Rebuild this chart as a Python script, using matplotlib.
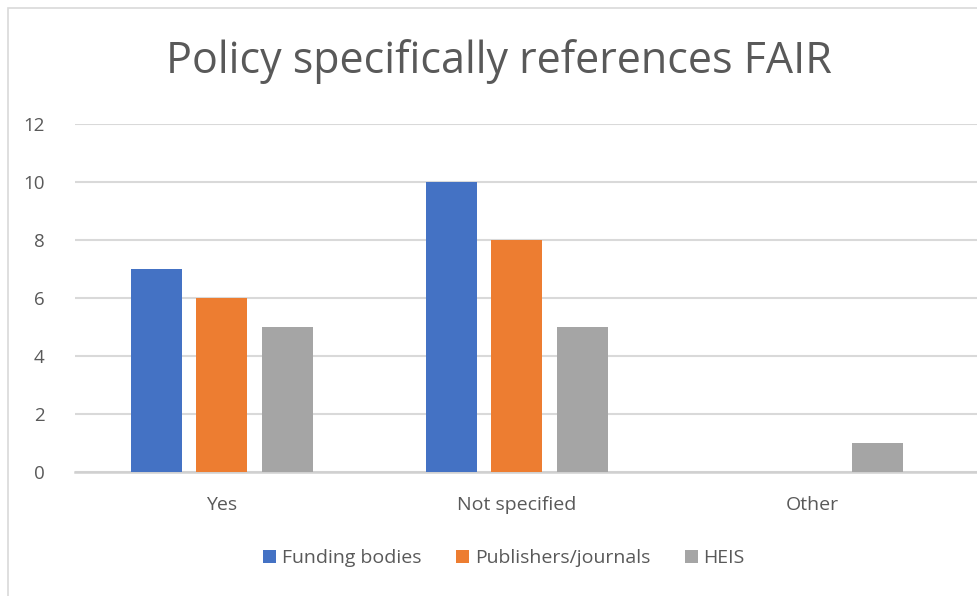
import matplotlib
matplotlib.use("Agg")
import matplotlib.pyplot as plt
from matplotlib.patches import Rectangle
import numpy as np

categories = ["Yes", "Not specified", "Other"]
series_names = ["Funding bodies", "Publishers/journals", "HEIS"]
funding = [7, 10, 0]
publishers = [6, 8, 0]
heis = [5, 5, 1]
yticks = [0, 2, 4, 6, 8, 10, 12]

colors = ["#4472C4", "#ED7D31", "#A5A5A5"]
txt = "#595959"
plt.rcParams['font.family'] = ['Open Sans', 'DejaVu Sans']

fig = plt.figure(figsize=(9.77, 5.96), dpi=100)
W, H = 977, 596
fig.patches.append(Rectangle((8 / W, -0.1), 1.2, 1 - 8 / H + 0.1, transform=fig.transFigure,
                             fill=False, edgecolor="#d9d9d9", linewidth=1.2))

ax = fig.add_axes([75 / W, 1 - 472 / H, (977 - 75) / W, (472 - 124) / H])
x = np.arange(len(categories))
off = 0.222
w = 0.173
for i, (vals, name) in enumerate(zip([funding, publishers, heis], series_names)):
    ax.bar(x + (i - 1) * off, vals, width=w, color=colors[i], label=name, zorder=3)

ax.set_xlim(-0.498, 2.56)
ax.set_ylim(0, 12)
ax.set_yticks(yticks)
ax.set_yticklabels([str(t) for t in yticks], fontsize=13.5, color=txt)
ax.set_xticks(x)
ax.set_xticklabels(categories, fontsize=14, color=txt)
ax.tick_params(axis='both', length=0)
ax.tick_params(axis='y', pad=22)
ax.tick_params(axis='x', pad=17)
ax.grid(axis='y', color="#d9d9d9", linewidth=1.5, zorder=0)
for s in ["top", "right", "left"]:
    ax.spines[s].set_visible(False)
ax.spines["bottom"].set_color("#d0d0d0")
ax.spines["bottom"].set_linewidth(1.8)
ax.set_axisbelow(True)

fig.text(499 / W, 1 - 62 / H, "Policy specifically references FAIR", ha="center", va="center",
         fontsize=31, color=txt)

fig.legend(loc="center", bbox_to_anchor=(504 / W, 1 - 558 / H), ncol=3, frameon=False,
           fontsize=14, labelcolor=txt, handlelength=0.65, handleheight=0.65,
           handletextpad=0.3, columnspacing=1.8)

fig.savefig("out.png", dpi=100, facecolor="white")
